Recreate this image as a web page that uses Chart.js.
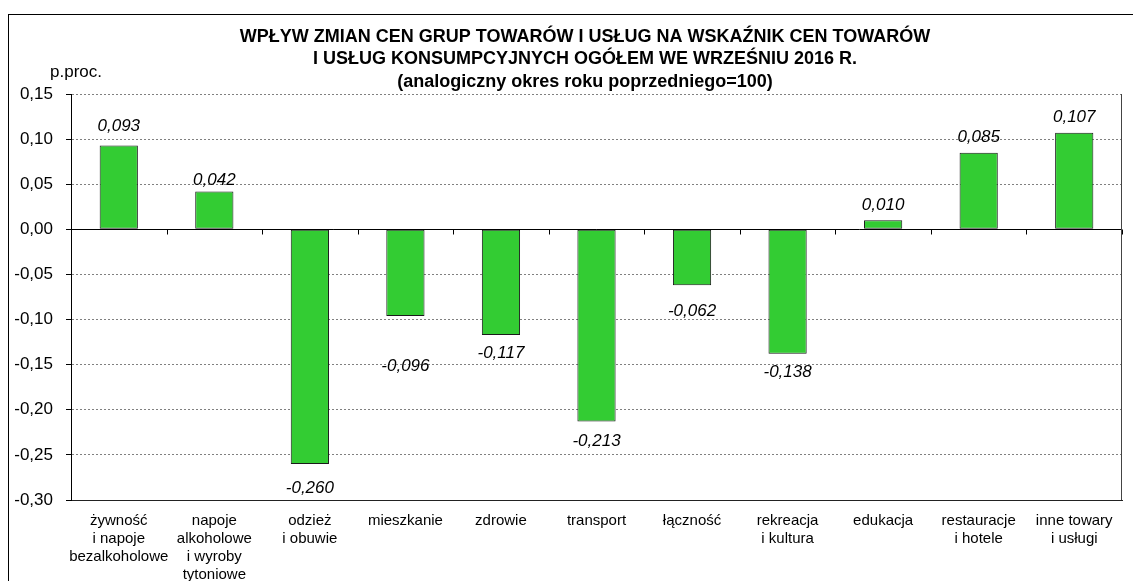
<!DOCTYPE html>
<html lang="pl">
  <head>
    <meta charset="UTF-8" />
    <title>Wpływ zmian cen grup towarów i usług</title>
    <script src="https://cdn.jsdelivr.net/npm/chart.js"></script>
    <style>
      * {
        margin: 0;
        padding: 0;
        box-sizing: border-box;
      }
      body {
        background-color: #ffffff;
        width: 1133px;
        height: 581px;
        overflow: hidden;
        position: relative;
      }
      #frame {
        position: absolute;
        left: 8px;
        top: 14px;
        width: 1140px;
        height: 600px;
        border: 1px solid #000;
      }
      #chart {
        position: absolute;
        left: 0;
        top: 0;
      }
    </style>
  </head>
  <body>
    <div id="frame"></div>
    <canvas id="chart" width="1133" height="581"></canvas>

    <script>
      const titleLines = [
        "WPŁYW ZMIAN CEN GRUP TOWARÓW I USŁUG NA WSKAŹNIK CEN TOWARÓW",
        "I USŁUG KONSUMPCYJNYCH OGÓŁEM WE WRZEŚNIU 2016 R.",
        "(analogiczny okres roku poprzedniego=100)",
      ];
      const unitLabel = "p.proc.";

      const categories = [
        ["żywność", "i napoje", "bezalkoholowe"],
        ["napoje", "alkoholowe", "i wyroby", "tytoniowe"],
        ["odzież", "i obuwie"],
        "mieszkanie",
        "zdrowie",
        "transport",
        "łączność",
        ["rekreacja", "i kultura"],
        "edukacja",
        ["restauracje", "i hotele"],
        ["inne towary", "i usługi"],
      ];
      const values = [
        0.093, 0.042, -0.26, -0.096, -0.117, -0.213, -0.062, -0.138, 0.01,
        0.085, 0.107,
      ];
      const yMin = -0.3;
      const yMax = 0.15;
      const yStep = 0.05;

      // distance of each value label from the bar end (as placed in the original)
      const labelGap = [19, 11, 24, 50, 18, 20, 26, 18, 15, 15, 16];

      const fmt = (v, d) => v.toFixed(d).replace(".", ",");

      // title, unit label, zero line with category ticks, right frame, value labels
      const extras = {
        id: "extras",
        afterDatasetsDraw(chart) {
          const { ctx, chartArea, scales } = chart;
          const y0 = Math.round(scales.y.getPixelForValue(0)) + 0.5;
          const half = (scales.x.getPixelForValue(1) - scales.x.getPixelForValue(0)) / 2;
          ctx.save();
          ctx.strokeStyle = "#000";
          ctx.lineWidth = 1;
          ctx.beginPath();
          ctx.moveTo(chartArea.left, y0);
          ctx.lineTo(chartArea.right, y0);
          for (let i = 0; i <= categories.length; i++) {
            const x = Math.round(scales.x.getPixelForValue(i) - half) + 0.5;
            ctx.moveTo(x, y0);
            ctx.lineTo(x, y0 + 5);
          }
          ctx.stroke();

          ctx.fillStyle = "#000";
          ctx.font = "italic 17px Arial";
          ctx.textAlign = "center";
          ctx.textBaseline = "middle";
          chart.getDatasetMeta(0).data.forEach((bar, i) => {
            const v = values[i];
            const y = v >= 0 ? bar.y - labelGap[i] : bar.y + labelGap[i];
            ctx.fillText(fmt(v, 3), bar.x, y);
          });
          ctx.restore();
        },
        afterDraw(chart) {
          const { ctx, chartArea } = chart;
          ctx.save();
          ctx.strokeStyle = "#444";
          ctx.lineWidth = 1;
          ctx.beginPath();
          ctx.moveTo(Math.round(chartArea.right) - 0.5, chartArea.top);
          ctx.lineTo(Math.round(chartArea.right) - 0.5, chartArea.bottom);
          ctx.stroke();

          ctx.fillStyle = "#000";
          ctx.font = "bold 18px Arial";
          ctx.textAlign = "center";
          ctx.textBaseline = "middle";
          titleLines.forEach((line, i) => ctx.fillText(line, 585, 37 + i * 22.5));

          ctx.font = "17px Arial";
          ctx.textAlign = "left";
          ctx.fillText(unitLabel, 50, 72);
          ctx.restore();
        },
      };

      Chart.defaults.font.family = "Arial, 'Liberation Sans', sans-serif";
      Chart.defaults.color = "#000";

      new Chart(document.getElementById("chart"), {
        type: "bar",
        data: {
          labels: categories,
          datasets: [
            {
              data: values,
              backgroundColor: "#33cc33",
              borderColor: "#1a1a1a",
              borderWidth: 1,
              borderSkipped: false,
              categoryPercentage: 1,
              barPercentage: 0.4,
            },
          ],
        },
        options: {
          responsive: false,
          animation: false,
          layout: {
            padding: { left: 0, right: 11, top: 94, bottom: 0 },
          },
          plugins: {
            legend: { display: false },
            tooltip: { enabled: false },
            title: { display: false },
          },
          scales: {
            x: {
              grid: { display: false, drawTicks: false },
              border: { display: true, color: "#222", width: 1 },
              ticks: {
                font: { size: 15, lineHeight: 1.2 },
                color: "#000",
                padding: 12,
                maxRotation: 0,
                autoSkip: false,
              },
              afterFit(scale) {
                scale.height = 81;
              },
            },
            y: {
              min: yMin,
              max: yMax,
              grid: {
                color: "#808080",
                lineWidth: 1,
                drawTicks: true,
                tickLength: 5,
                tickColor: "#000",
              },
              border: { display: true, color: "#000", width: 1, dash: [2, 2] },
              ticks: {
                stepSize: yStep,
                font: { size: 17 },
                color: "#000",
                padding: 13,
                callback: (v) => fmt(v, 2),
              },
              afterFit(scale) {
                scale.width = 71;
              },
            },
          },
        },
        plugins: [extras],
      });
    </script>
  </body>
</html>
